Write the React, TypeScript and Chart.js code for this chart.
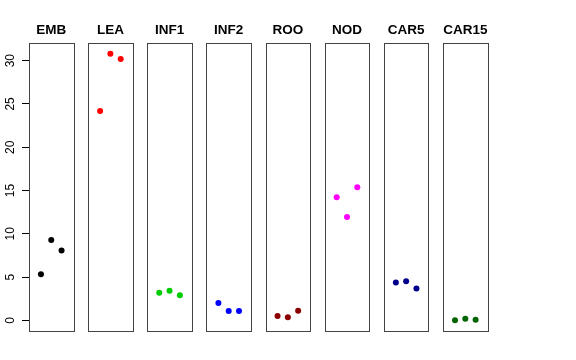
import React, { useEffect, useRef } from "react";
import { Chart, registerables } from "chart.js";

Chart.register(...registerables);

// ---- data ----
const categories = ["EMB", "LEA", "INF1", "INF2", "ROO", "NOD", "CAR5", "CAR15"];
const replicates = [1, 2, 3];
const embValues = [5.32, 9.29, 8.06];
const leaValues = [24.18, 30.81, 30.2];
const inf1Values = [3.2, 3.43, 2.89];
const inf2Values = [2.0, 1.08, 1.08];
const rooValues = [0.5, 0.35, 1.12];
const nodValues = [14.23, 11.95, 15.39];
const car5Values = [4.36, 4.51, 3.67];
const car15Values = [0.0, 0.19, 0.08];
const seriesValues = [embValues, leaValues, inf1Values, inf2Values, rooValues, nodValues, car5Values, car15Values];
const yTickValues = [0, 5, 10, 15, 20, 25, 30];

// ---- styles ----
const colors = ["#000000", "#FF0000", "#00CD00", "#0000FF", "#8B0000", "#FF00FF", "#00008B", "#006400"];
const W = 576;
const H = 360;
const Y_MIN = -1.23;
const Y_MAX = 32.04;
const X_MIN = -0.16;
const X_MAX = 4.16;
const FIRST_LEFT = 29;
const PITCH = 59.15;
const PANEL_W = 44.5;
const TOP = 43;
const BOTTOM = 29;
const FONT = "'Liberation Sans', Arial, Helvetica, sans-serif";

function Panel({ index }: { index: number }) {
  const ref = useRef<HTMLCanvasElement | null>(null);
  useEffect(() => {
    if (!ref.current) return;
    const left = FIRST_LEFT + PITCH * index;
    const right = left + PANEL_W;
    const isFirst = index === 0;
    const title = categories[index];
    const boxPlugin = {
      id: "boxAndTitle" + index,
      afterDraw(chart: any) {
        const { ctx, chartArea } = chart;
        ctx.save();
        ctx.strokeStyle = "#444444";
        ctx.lineWidth = 1;
        const l = Math.round(chartArea.left) + 0.5;
        const t = Math.round(chartArea.top) + 0.5;
        const r = Math.round(chartArea.right) + 0.5;
        const b = Math.round(chartArea.bottom) + 0.5;
        ctx.strokeRect(l, t, r - l, b - t);
        ctx.fillStyle = "#000";
        ctx.font = `bold 13.5px ${FONT}`;
        ctx.textAlign = "center";
        ctx.textBaseline = "alphabetic";
        ctx.fillText(title, (chartArea.left + chartArea.right) / 2, 34);
        ctx.restore();
      },
    };
    const yScale: any = {
      type: "linear",
      min: Y_MIN,
      max: Y_MAX,
      display: isFirst,
    };
    if (isFirst) {
      Object.assign(yScale, {
        afterBuildTicks: (scale: any) => {
          scale.ticks = yTickValues.map((v) => ({ value: v }));
        },
        afterFit: (scale: any) => {
          scale.width = FIRST_LEFT;
        },
        grid: { drawOnChartArea: false, drawTicks: true, tickLength: 7, color: "#000" },
        border: { display: false },
        ticks: {
          color: "#000",
          font: { family: FONT, size: 12 },
          minRotation: 90,
          maxRotation: 90,
          crossAlign: "center",
          padding: 4.5,
        },
      });
    }
    const chart = new Chart(ref.current, {
      type: "scatter",
      data: {
        datasets: [
          {
            label: title,
            data: replicates.map((r, i) => ({ x: r, y: seriesValues[index][i] })),
            backgroundColor: colors[index],
            borderColor: colors[index],
            borderWidth: 0,
            pointRadius: 3,
          },
        ],
      },
      options: {
        animation: false,
        responsive: false,
        layout: {
          autoPadding: false,
          padding: { left: isFirst ? 0 : left, right: W - right, top: TOP, bottom: BOTTOM },
        },
        plugins: { legend: { display: false }, tooltip: { enabled: false }, title: { display: false } },
        scales: {
          x: { type: "linear", min: X_MIN, max: X_MAX, display: false },
          y: yScale,
        },
      },
      plugins: [boxPlugin],
    });
    return () => chart.destroy();
  }, [index]);
  return (
    <canvas
      ref={ref}
      width={W}
      height={H}
      style={{ position: "absolute", left: 0, top: 0, width: W, height: H, pointerEvents: "none" }}
    />
  );
}

export default function App() {
  return (
    <div style={{ position: "absolute", left: 0, top: 0, width: W, height: H, background: "#fff" }}>
      {categories.map((c, i) => (
        <Panel key={c} index={i} />
      ))}
    </div>
  );
}
